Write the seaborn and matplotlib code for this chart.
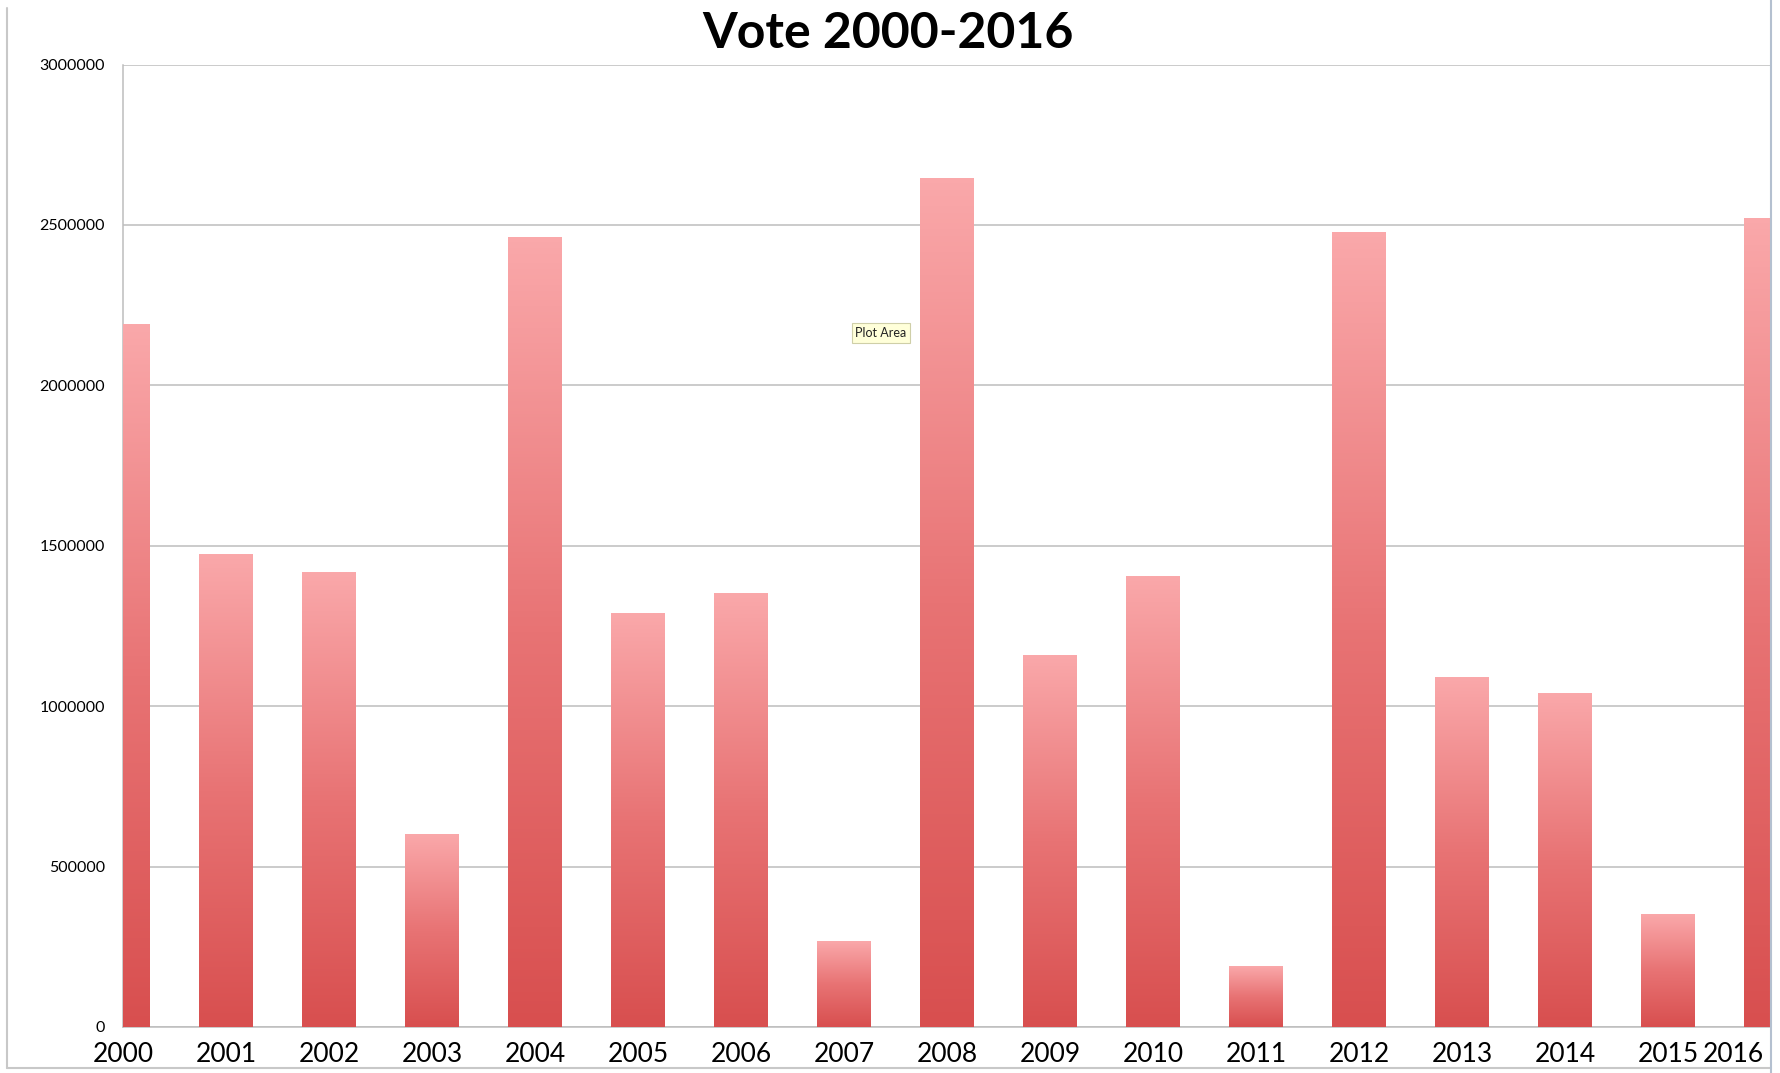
import numpy as np
import pandas as pd
import matplotlib
matplotlib.use("Agg")
import matplotlib.pyplot as plt
import matplotlib.transforms as mtransforms
import seaborn as sns
from matplotlib.colors import LinearSegmentedColormap
from matplotlib.lines import Line2D

# ---- data ----
years = [2000, 2001, 2002, 2003, 2004, 2005, 2006, 2007, 2008,
         2009, 2010, 2011, 2012, 2013, 2014, 2015, 2016]
votes = [2190000, 1472000, 1416000, 600000, 2461000, 1290000, 1352000,
         268000, 2645000, 1158000, 1405000, 188000, 2475000, 1088000,
         1038000, 351000, 2521000]
ytick_values = [0, 500000, 1000000, 1500000, 2000000, 2500000, 3000000]
ytick_labels = ["0", "500000", "1000000", "1500000", "2000000", "2500000", "3000000"]
title = "Vote 2000-2016"

W, H = 1781, 1073

sns.set_theme(style="white")
plt.rcParams["font.family"] = ["Lato", "DejaVu Sans"]

fig = plt.figure(figsize=(W / 100, H / 100), dpi=100)
fig.patch.set_facecolor("white")

ax_left, ax_right, ax_top, ax_bottom = 123, 1771, 64.5, 1027
ax = fig.add_axes([ax_left / W, 1 - ax_bottom / H,
                   (ax_right - ax_left) / W, (ax_bottom - ax_top) / H])

df = pd.DataFrame({"year": [str(y) for y in years], "votes": votes})
sns.barplot(data=df, x="year", y="votes", ax=ax, width=0.52,
            color="#E06060", saturation=1, errorbar=None)

# vertical gradient fill per bar
cmap = LinearSegmentedColormap.from_list("grad", ["#D84F4F", "#E87374", "#FAA8AA"])
grad = np.linspace(0, 1, 256).reshape(-1, 1)
for p in list(ax.patches):
    x0 = p.get_x()
    w = p.get_width()
    h = p.get_height()
    ax.imshow(grad, extent=[x0, x0 + w, 0, h], origin="lower", aspect="auto",
              cmap=cmap, zorder=3, interpolation="bilinear")
    p.set_visible(False)

ax.set_xlim(0, 16)
ax.set_ylim(0, 3000000)
ax.set_yticks(ytick_values)
ax.set_yticklabels(ytick_labels)
ax.yaxis.grid(True, color="#BDBDBD", linewidth=1.1)
ax.xaxis.grid(False)
ax.set_axisbelow(True)
ax.set_xlabel("")
ax.set_ylabel("")

for s in ["top", "right"]:
    ax.spines[s].set_visible(False)
for s in ["left", "bottom"]:
    ax.spines[s].set_color("#BDBDBD")
    ax.spines[s].set_linewidth(1.1)

ax.tick_params(axis="y", labelsize=11.5, pad=13, length=0, colors="black")
ax.tick_params(axis="x", labelsize=19, pad=11, length=0, colors="black")

# last x label kept inside the chart (right-aligned, as in the reference)
fig.canvas.draw()
last = ax.get_xticklabels()[-1]
last.set_horizontalalignment("right")
last.set_transform(last.get_transform() +
                   mtransforms.ScaledTranslation(-7 / 100, 0, fig.dpi_scale_trans))

fig.text(888 / W, 1 - 48 / H, title, ha="center", va="baseline",
         fontsize=36, fontweight="bold", color="black")

# "Plot Area" tooltip
fig.text(881 / W, 1 - 333 / H, "Plot Area", ha="center", va="center",
         fontsize=9, color="#222222",
         bbox=dict(boxstyle="square,pad=0.3", facecolor="#FFFFD9",
                   edgecolor="#CFCFA8", linewidth=0.8))

# outer frame lines
fig.add_artist(Line2D([7 / W, 7 / W], [1 - 1068 / H, 1 - 8 / H],
                      transform=fig.transFigure, color="#C8C8C8", lw=1.5))
fig.add_artist(Line2D([7 / W, 1771 / W], [1 - 1068 / H, 1 - 1068 / H],
                      transform=fig.transFigure, color="#C8C8C8", lw=1.5))
fig.add_artist(Line2D([1771 / W, 1771 / W], [0, 1],
                      transform=fig.transFigure, color="#B4C0D0", lw=1.5))

fig.savefig("out.png", dpi=100)
